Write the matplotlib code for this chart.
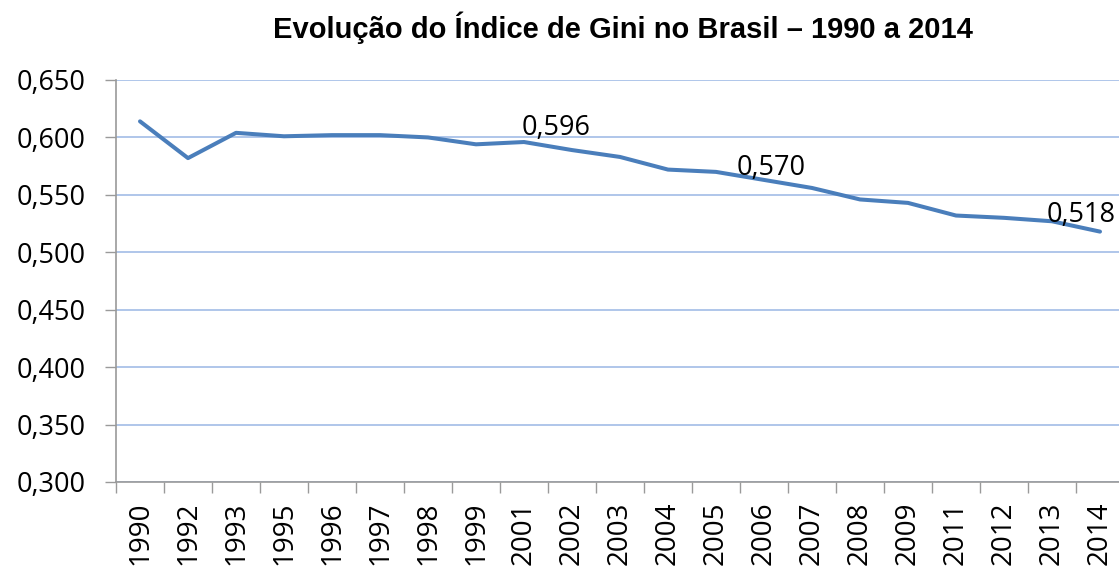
import matplotlib
matplotlib.use("Agg")
import matplotlib.pyplot as plt
import numpy as np

""" Data """
years = ["1990", "1992", "1993", "1995", "1996", "1997", "1998", "1999", "2001", "2002",
         "2003", "2004", "2005", "2006", "2007", "2008", "2009", "2011", "2012", "2013", "2014"]
gini = [0.614, 0.582, 0.604, 0.601, 0.602, 0.602, 0.600, 0.594, 0.596, 0.589,
        0.583, 0.572, 0.570, 0.563, 0.556, 0.546, 0.543, 0.532, 0.530, 0.527, 0.518]
labelled = {"2001": "0,596", "2005": "0,570", "2014": "0,518"}
label_offsets = {"2001": (-2, 7), "2005": (21, -3), "2014": (-53, 10)}  # pixels
yticks = [0.300, 0.350, 0.400, 0.450, 0.500, 0.550, 0.600, 0.650]

""" Figure """
fig = plt.figure(figsize=(11.19, 5.66), dpi=100)
ax = fig.add_axes([116 / 1119, (566 - 482) / 566, (1124 - 116) / 1119, (482 - 80) / 566])

x = np.arange(len(years))
ax.plot(x, gini, color="#4a7ebb", linewidth=2.9, solid_capstyle="round", zorder=3)

for yr, txt in labelled.items():
    i = years.index(yr)
    ax.annotate(txt, (x[i], gini[i]), xytext=label_offsets[yr], textcoords="offset pixels",
                ha="left", va="baseline", fontsize=19.5, family="Open Sans",
                color="black", annotation_clip=False)

ax.set_xlim(-0.5, len(years) - 0.5)
ax.set_ylim(0.300, 0.650)
ax.set_yticks(yticks)
ax.set_yticklabels([f"{v:.3f}".replace(".", ",") for v in yticks],
                   fontsize=19.5, family="Open Sans")
ax.set_xticks(x)
ax.set_xticklabels(years, rotation=90, fontsize=20, family="Open Sans")
ax.set_xticks(np.arange(len(years) + 1) - 0.5, minor=True)
ax.tick_params(axis="x", which="major", length=0, pad=14)
ax.tick_params(axis="x", which="minor", length=8, color="#9a9a9a", width=1)
ax.tick_params(axis="y", length=8, color="#9a9a9a", width=1, pad=14)

ax.grid(axis="y", color="#a9c1e8", linewidth=1.3)
ax.set_axisbelow(True)
for s in ["top", "right"]:
    ax.spines[s].set_visible(False)
for s in ["left", "bottom"]:
    ax.spines[s].set_color("#9a9a9a")
    ax.spines[s].set_linewidth(1.2)

fig.text(623 / 1119, 1 - 28 / 566, "Evolução do Índice de Gini no Brasil – 1990 a 2014",
         ha="center", va="center", fontsize=21, fontweight="bold", family="Liberation Sans")

fig.savefig("out.png", dpi=100)
